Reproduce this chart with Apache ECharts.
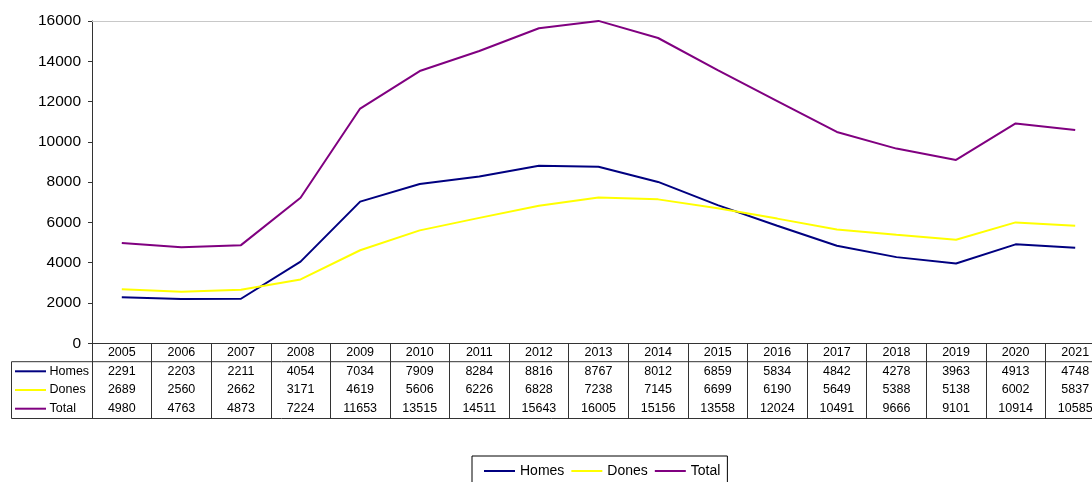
<!DOCTYPE html>
<html>
<head>
<meta charset="utf-8">
<script src="https://cdn.jsdelivr.net/npm/echarts@6/dist/echarts.min.js"></script>
<style>
html,body{margin:0;padding:0;background:#fff;}
#chart{width:1092px;height:482px;}
</style>
</head>
<body>
<div id="chart"></div>
<script>
var years = ['2005','2006','2007','2008','2009','2010','2011','2012','2013','2014','2015','2016','2017','2018','2019','2020','2021'];
var homes = [2291,2203,2211,4054,7034,7909,8284,8816,8767,8012,6859,5834,4842,4278,3963,4913,4748];
var dones = [2689,2560,2662,3171,4619,5606,6226,6828,7238,7145,6699,6190,5649,5388,5138,6002,5837];
var total = [4980,4763,4873,7224,11653,13515,14511,15643,16005,15156,13558,12024,10491,9666,9101,10914,10585];
var seriesNames = ['Homes','Dones','Total'];
var colors = ['#000080','#FFFF00','#800080'];
var yTicks = {min:0, max:16000, interval:2000};

var FONT = "'Liberation Sans', Arial, sans-serif";
var chart = echarts.init(document.getElementById('chart'), null, {renderer:'canvas'});

var GRID_TOP = 21, AXIS_Y = 343.3, ROW_TOP = 361.7, TABLE_BOTTOM = 418.5;
var rowCenters = [371.3, 390, 408.7];
var rowData = [homes, dones, total];

function valueAxis(idx){
  return {
    type:'category', data:years, position:'bottom', gridIndex:0,
    axisLine:{show:false}, axisTick:{show:false},
    axisLabel:{
      interval:0, fontSize:12.5, fontFamily:FONT, color:'#000',
      verticalAlign:'middle', margin: rowCenters[idx]-AXIS_Y,
      hideOverlap:false,
      formatter:function(v, i){ return String(rowData[idx][i]); }
    }
  };
}

var graphics = [
  {type:'line', shape:{x1:11.5,y1:ROW_TOP,x2:1092,y2:ROW_TOP}, style:{stroke:'#333',lineWidth:1}},
  {type:'line', shape:{x1:11.5,y1:TABLE_BOTTOM,x2:1092,y2:TABLE_BOTTOM}, style:{stroke:'#333',lineWidth:1}},
  {type:'line', shape:{x1:11.5,y1:ROW_TOP,x2:11.5,y2:TABLE_BOTTOM}, style:{stroke:'#333',lineWidth:1}}
];
seriesNames.forEach(function(n,i){
  graphics.push({type:'line', shape:{x1:15,y1:rowCenters[i],x2:46,y2:rowCenters[i]}, style:{stroke:colors[i],lineWidth:2}});
  graphics.push({type:'text', x:49.5, y:rowCenters[i], style:{text:n, fill:'#000', font:'12.5px '+FONT, verticalAlign:'middle', align:'left'}});
});

chart.setOption({
  animation:false,
  backgroundColor:'#fff',
  color:colors,
  grid:{left:92, top:GRID_TOP, width:1013, bottom:482-AXIS_Y, containLabel:false, outerBoundsMode:'none'},
  legend:{
    data:seriesNames, left:472, top:456, orient:'horizontal',
    borderColor:'#000', borderWidth:1, padding:[8,7,30,11],
    itemWidth:31, itemHeight:14, itemGap:6,
    itemStyle:{color:'transparent', borderColor:'transparent', borderWidth:0},
    textStyle:{fontSize:14, fontFamily:FONT, color:'#000'}
  },
  xAxis:[
    {
      type:'category', data:years, boundaryGap:true, position:'bottom',
      axisLine:{show:true, lineStyle:{color:'#333',width:1}},
      axisTick:{show:true, interval:0, alignWithLabel:false, length:TABLE_BOTTOM-AXIS_Y, lineStyle:{color:'#333',width:1}},
      axisLabel:{interval:0, fontSize:12.5, fontFamily:FONT, color:'#000', verticalAlign:'middle', margin:352.8-AXIS_Y}
    },
    valueAxis(0), valueAxis(1), valueAxis(2),
    {
      type:'category', data:years, position:'top',
      axisLine:{show:true, lineStyle:{color:'#c8c8c8',width:1}},
      axisTick:{show:false}, axisLabel:{show:false}
    }
  ],
  yAxis:{
    type:'value', min:yTicks.min, max:yTicks.max, interval:yTicks.interval,
    axisLine:{show:true, lineStyle:{color:'#333',width:1}},
    axisTick:{show:true, length:4, lineStyle:{color:'#333'}},
    splitLine:{show:false},
    axisLabel:{fontSize:15.5, fontFamily:FONT, color:'#000', margin:11, formatter:function(v){ return String(v); }}
  },
  graphic:graphics,
  series:[
    {name:'Homes', type:'line', data:homes, symbol:'none', clip:false, lineStyle:{color:colors[0],width:2}, itemStyle:{color:colors[0]}},
    {name:'Dones', type:'line', data:dones, symbol:'none', clip:false, lineStyle:{color:colors[1],width:2}, itemStyle:{color:colors[1]}},
    {name:'Total', type:'line', data:total, symbol:'none', clip:false, lineStyle:{color:colors[2],width:2}, itemStyle:{color:colors[2]}}
  ]
});
</script>
</body>
</html>
